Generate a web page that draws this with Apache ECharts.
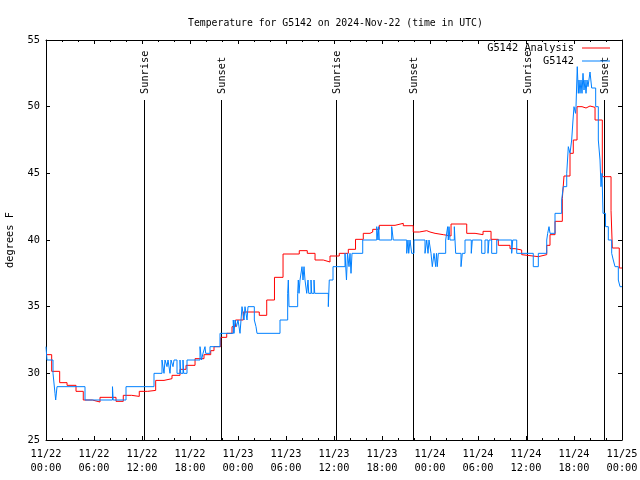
<!DOCTYPE html>
<html><head><meta charset="utf-8">
<script src="https://cdn.jsdelivr.net/npm/echarts@6/dist/echarts.min.js"></script>
<style>html,body{margin:0;padding:0;background:#fff}#c{width:640px;height:480px}</style>
</head><body><div id="c"></div>
<script>
const titleText = 'Temperature for G5142 on 2024-Nov-22 (time in UTC)';
const yAxisName = 'degrees F';
const analysisName = 'G5142 Analysis';
const obsName = 'G5142';
// hours since 2024-11-22 00:00 UTC, degrees F
const analysisData = [[0,31.4],[0.71,30.15],[1.71,29.3],[2.63,29.1],[3.75,28.65],[4.66,28.0],[5.79,27.85],[6.75,28.2],[8.75,27.9],[9.66,28.35],[10.71,28.27],[11.66,28.65],[12.71,28.72],[13.71,29.47],[14.75,29.6],[15.75,29.85],[16.75,30.3],[17.5,30.6],[18.63,31.1],[19.75,31.4],[20.59,31.7],[21.0,32.0],[21.84,32.7],[22.59,33.0],[23.25,33.5],[23.69,34.0],[24.66,34.6],[26.66,34.35],[27.59,35.5],[28.56,37.2],[29.63,38.95],[31.66,39.2],[32.66,39.0],[33.63,38.5],[34.66,38.35],[35.5,38.8],[36.66,39.0],[37.79,39.3],[38.69,40.05],[39.66,40.5],[40.5,40.6],[40.84,40.8],[41.66,41.1],[43.63,41.25],[44.66,41.07],[45.91,40.6],[46.66,40.7],[47.59,40.6],[48.0,40.5],[48.63,40.4],[49.66,40.3],[50.63,41.2],[52.59,40.5],[53.63,40.4],[54.63,40.65],[55.63,40.05],[56.54,39.6],[58.0,39.35],[58.63,39.25],[59.46,38.9],[59.66,38.75],[61.54,38.9],[62.59,39.6],[63.0,40.4],[63.63,41.4],[64.54,43.1],[64.75,44.8],[65.5,46.5],[65.91,47.5],[66.38,50.0],[67.0,49.9],[67.5,50.05],[68.0,49.95],[68.63,49.0],[69.54,44.75],[70.63,42.2],[70.79,39.4],[71.66,37.9],[72,37.9]];
const obsData = [[0,32],[0.125,31],[0.875,30],[1.125,28.5],[1.21,28],[1.375,29],[4.875,28],[8.31,29],[8.4,28],[10.0,29],[13.5,30],[14.5,31],[14.75,30],[14.875,31],[15.125,30.5],[15.25,31],[15.5,30],[15.625,31],[15.875,30.5],[16.0,31],[16.375,30],[16.75,31],[16.84,30],[17.125,31],[17.21,30],[17.625,31],[19.25,32],[19.44,31],[19.625,31.5],[19.875,32],[19.96,31.5],[20.5,32],[21.75,33],[23.41,34],[23.5,33],[23.625,34],[23.81,33.5],[24.0,34],[24.25,33],[24.5,35],[24.75,34],[24.875,35],[25.125,34],[25.25,35],[26.04,34],[26.25,33.5],[26.375,33],[29.25,34],[30.21,36],[30.29,37],[30.375,35],[31.46,36],[31.54,37],[31.625,36],[31.75,37],[32.0,38],[32.125,37],[32.25,38],[32.375,37],[32.59,36],[32.75,37],[32.84,36],[33.125,37],[33.21,36],[33.5,37],[33.59,36],[35.29,35],[35.41,37],[35.875,38],[37.375,39],[37.56,37],[37.69,39],[37.875,38],[38.0,39],[38.125,37.5],[38.25,39],[39.59,40],[41.34,41],[41.5,40],[41.59,41],[41.66,40],[43.21,41],[43.41,40],[45.09,39],[45.25,40],[45.34,39],[45.5,40],[45.71,39],[46.0,40],[47.375,39],[47.59,40],[47.75,39],[47.875,40],[48.125,39],[48.29,38],[48.5,39],[48.71,38],[48.81,39],[48.91,38],[49.04,39],[49.96,40],[50.21,41],[50.29,40],[50.375,41],[50.5,40],[51.04,41],[51.21,39],[51.875,38],[52.04,39],[52.375,40],[53.16,39],[53.29,40],[54.46,39],[54.875,40],[55.25,39],[55.375,40],[55.71,39],[56.34,40],[58.21,39],[58.34,40],[58.84,39],[60.91,38],[61.54,39],[62.59,40],[62.71,40.5],[62.875,41],[63.0,40.5],[63.625,42],[64.46,43],[64.66,44],[65.09,45],[65.19,46],[65.29,47],[65.5,46.5],[65.71,47.5],[65.875,49],[66.0,50],[66.19,49.5],[66.25,50],[66.41,53],[66.54,51],[66.625,52],[66.75,51],[66.875,52],[67.0,51],[67.125,52.5],[67.25,51.25],[67.375,52],[67.5,51],[67.625,52],[67.75,51.5],[68.0,52.6],[68.21,51.4],[68.71,50],[69.04,47.5],[69.25,46],[69.375,44],[69.5,45],[69.625,42],[69.94,41],[70.29,40],[70.71,39],[70.91,38.5],[71.125,38],[71.54,37],[71.75,36.5],[72,36.5]];
const sunTimes = [12.28, 21.92, 36.3, 45.9, 60.18, 69.78];
const sunLabels = ['Sunrise','Sunset','Sunrise','Sunset','Sunrise','Sunset'];
const sunLineTop = 50.5;
const sunLabelBase = 50.95;
const xMin = 0, xMax = 72, xStep = 6;
const yMin = 25, yMax = 55, yStep = 5;
const startMonth = 11, startDay = 22;

const FONT = '"DejaVu Sans Mono", monospace';
const chart = echarts.init(document.getElementById('c'), null, {renderer: 'canvas'});

function xLabel(v) {
  const d = startDay + Math.floor(v / 24);
  const h = Math.round(v % 24);
  return startMonth + '/' + d + '\n' + String(h).padStart(2, '0') + ':00';
}
const axisLineStyle = {color: '#000', width: 1};
function xAx(pos, showLabel) {
  return {
    type: 'value', position: pos, min: xMin, max: xMax, interval: xStep,
    axisLine: {show: true, onZero: false, lineStyle: axisLineStyle},
    axisTick: {show: true, inside: true, length: 4, lineStyle: axisLineStyle},
    minorTick: {show: true, splitNumber: 3, length: 2, lineStyle: axisLineStyle},
    splitLine: {show: false},
    axisLabel: {show: showLabel, formatter: xLabel, color: '#000', fontFamily: FONT, fontSize: 10.3, lineHeight: 14, margin: 7, hideOverlap: false}
  };
}
function yAx(pos, showLabel) {
  return {
    type: 'value', position: pos, min: yMin, max: yMax, interval: yStep,
    name: showLabel ? yAxisName : '', nameLocation: 'middle', nameGap: 31,
    nameTextStyle: {color: '#000', fontFamily: FONT, fontSize: 10.3},
    axisLine: {show: true, onZero: false, lineStyle: axisLineStyle},
    axisTick: {show: true, inside: true, length: 4, lineStyle: axisLineStyle},
    splitLine: {show: false},
    axisLabel: {show: showLabel, color: '#000', fontFamily: FONT, fontSize: 10.3, margin: 6}
  };
}
const legendBase = {
  orient: 'vertical', align: 'right', icon: 'rect', itemWidth: 28, itemHeight: 1,
  padding: 0, itemGap: 0, selectedMode: false,
  textStyle: {color: '#000', fontFamily: FONT, fontSize: 10.3, padding: [0, 3, 0, 0]}
};
chart.setOption({
  animation: false,
  backgroundColor: '#fff',
  title: {text: titleText, left: 183, top: 13, textStyle: {color: '#000', fontFamily: FONT, fontSize: 9.8, fontWeight: 'normal'}},
  grid: {left: 46, right: 18, top: 40, bottom: 40, containLabel: false, outerBoundsMode: 'none'},
  legend: [
    Object.assign({}, legendBase, {data: [analysisName], right: 30, top: 43}),
    Object.assign({}, legendBase, {data: [obsName], right: 30, top: 56})
  ],
  xAxis: [xAx('bottom', true), xAx('top', false)],
  yAxis: [yAx('left', true), yAx('right', false)],
  series: [
    {
      type: 'custom', xAxisIndex: 0, yAxisIndex: 0, silent: true,
      data: sunTimes.map((t, i) => [t, i]),
      renderItem: function (params, api) {
        const t = api.value(0), idx = api.value(1);
        const p0 = api.coord([t, yMin]);
        const p1 = api.coord([t, sunLineTop]);
        const pl = api.coord([t, sunLabelBase]);
        const x = Math.round(p0[0]) + 0.5;
        return {type: 'group', children: [
          {type: 'line', shape: {x1: x, y1: p0[1], x2: x, y2: p1[1]}, style: {stroke: '#000', lineWidth: 1}},
          {type: 'text', x: x + 1, y: pl[1], rotation: Math.PI / 2,
           style: {text: sunLabels[idx], fill: '#000', font: '10.3px ' + FONT, align: 'left', verticalAlign: 'middle'}}
        ]};
      }
    },
    {
      name: analysisName, type: 'line', step: 'end', data: analysisData, showSymbol: false,
      color: '#ff0000', lineStyle: {color: '#ff0000', width: 1}
    },
    {
      name: obsName, type: 'line', step: 'end', data: obsData, showSymbol: false,
      color: '#0080ff', lineStyle: {color: '#0080ff', width: 1}
    }
  ]
});
</script>
</body></html>
